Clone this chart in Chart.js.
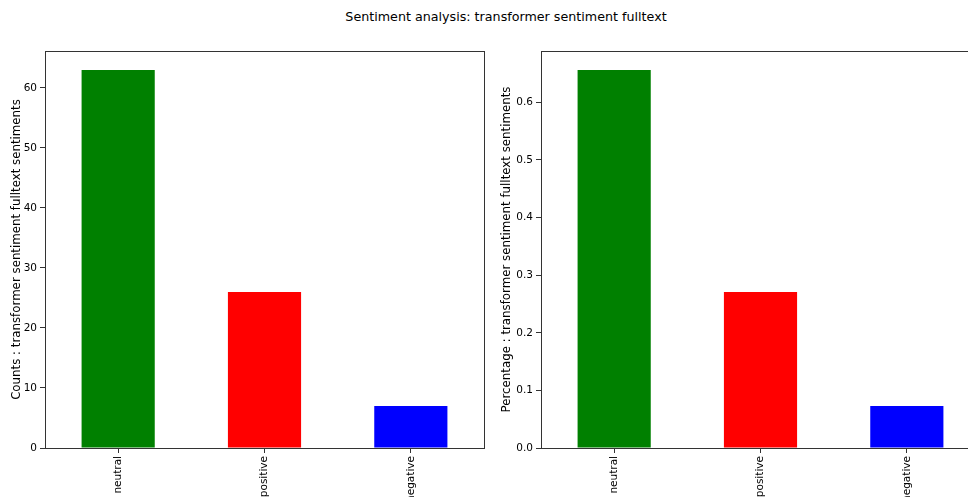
<!DOCTYPE html>
<html>
<head>
<meta charset="utf-8">
<script src="https://cdn.jsdelivr.net/npm/chart.js@4.4.1/dist/chart.umd.min.js"></script>
<style>
  html, body { margin: 0; padding: 0; background: #fff; }
  body { width: 968px; height: 497px; overflow: hidden; position: relative; font-family: "DejaVu Sans", sans-serif; }
  #title { position: absolute; top: 9px; left: 306px; width: 400px; text-align: center; font-size: 12.7px; color: #000; white-space: nowrap; }
  .box { position: absolute; top: 0; height: 497px; }
  #left { left: 0; width: 490px; }
  #right { left: 490px; width: 490px; }
</style>
</head>
<body>
<div id="title">Sentiment analysis: transformer sentiment fulltext</div>
<div class="box" id="left"><canvas id="countsChart"></canvas></div>
<div class="box" id="right"><canvas id="pctChart"></canvas></div>
<script>
const categories = ['neutral', 'positive', 'negative'];
const counts = [63, 26, 7];
const percentages = [0.65625, 0.27083, 0.07292];
const barColors = ['#008000', '#ff0000', '#0000ff'];
const countTicks = [0, 10, 20, 30, 40, 50, 60];
const pctTicks = [0.0, 0.1, 0.2, 0.3, 0.4, 0.5, 0.6];

Chart.defaults.font.family = '"DejaVu Sans", sans-serif';
Chart.defaults.color = '#000';

// matplotlib style box round the axes
const frame = {
  id: 'frame',
  afterDraw(chart) {
    const { ctx, chartArea: a } = chart;
    ctx.save();
    ctx.strokeStyle = '#333';
    ctx.lineWidth = 1;
    ctx.strokeRect(Math.round(a.left) + 0.5, Math.round(a.top) + 0.5,
      Math.round(a.right - a.left), Math.round(a.bottom - a.top));
    ctx.restore();
  }
};

function makeChart(id, values, tickValues, label, axisWidth, padRight, fmt) {
  new Chart(document.getElementById(id), {
    type: 'bar',
    data: {
      labels: categories,
      datasets: [{
        data: values,
        backgroundColor: barColors,
        borderWidth: 0,
        barPercentage: 0.5,
        categoryPercentage: 1.0
      }]
    },
    options: {
      responsive: true,
      maintainAspectRatio: false,
      animation: false,
      layout: { padding: { top: 51, right: padRight, left: 0, bottom: 0 } },
      plugins: { legend: { display: false }, tooltip: { enabled: false } },
      scales: {
        x: {
          offset: true,
          grid: { display: true, drawOnChartArea: false, tickLength: 5, tickColor: '#333', offset: false },
          border: { color: '#333' },
          ticks: { minRotation: 90, maxRotation: 90, padding: 3, font: { size: 10.5 } },
          afterFit(s) { s.height = 49; }
        },
        y: {
          min: 0,
          max: Math.max(...values) * 1.05,
          afterBuildTicks(s) { s.ticks = tickValues.map(v => ({ value: v })); },
          grid: { display: true, drawOnChartArea: false, tickLength: 5, tickColor: '#333' },
          border: { color: '#333' },
          ticks: { padding: 3, font: { size: 10.5 }, callback: fmt },
          title: { display: true, text: label, font: { size: 11.8 }, padding: { top: 10, bottom: 0 } },
          afterFit(s) { s.width = axisWidth; }
        }
      }
    },
    plugins: [frame]
  });
}

makeChart('countsChart', counts, countTicks,
  'Counts : transformer sentiment fulltext sentiments', 45, 6, v => String(v));
makeChart('pctChart', percentages, pctTicks,
  'Percentage : transformer sentiment fulltext sentiments', 51, 0, v => v.toFixed(1));
</script>
</body>
</html>
